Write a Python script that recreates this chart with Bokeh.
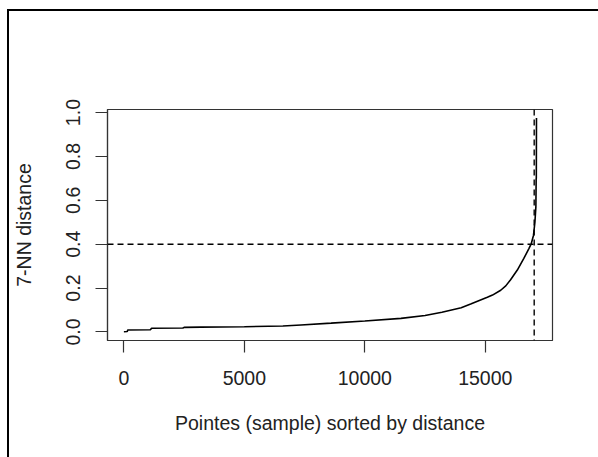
from bokeh.plotting import figure
from bokeh.models import FixedTicker, Span, Range1d
from bokeh.embed import file_html
from bokeh.resources import INLINE

# ---- data ----
sorted_index = [1, 140, 160, 1100, 1150, 2450, 2500, 3200, 5000, 6600, 7350, 8600,
                10000, 11500, 12500, 13200, 14000, 14394, 15085, 15300, 15640,
                15850, 16050, 16330, 16600, 16810, 16910, 17000, 17060, 17100,
                17112, 17118, 17125]
knn_distance = [0.001, 0.002, 0.009, 0.010, 0.017, 0.018, 0.021, 0.022, 0.024, 0.027,
                0.032, 0.040, 0.050, 0.062, 0.075, 0.090, 0.110, 0.127, 0.158,
                0.168, 0.190, 0.210, 0.238, 0.282, 0.335, 0.380, 0.403, 0.440,
                0.500, 0.570, 0.700, 0.700, 0.975]
eps_value = 0.4
knee_index = 17030

x_ticks = [0, 5000, 10000, 15000]
x_tick_labels = ["0", "5000", "10000", "15000"]
y_ticks = [0.0, 0.2, 0.4, 0.6, 0.8, 1.0]
y_tick_labels = ["0.0", "0.2", "0.4", "0.6", "0.8", "1.0"]
x_title = "Pointes (sample) sorted by distance"
y_title = "7-NN distance"

FONT = "Liberation Sans"
FS = "19.5px"
INK = "#222222"

p = figure(width=589, height=446, output_backend="svg", toolbar_location=None,
           x_range=Range1d(-680, 17790), y_range=Range1d(-0.039, 1.014),
           frame_width=445, frame_height=231,
           min_border_left=98, min_border_right=46, min_border_top=98,
           min_border_bottom=117)
p.styles = {"margin-left": "7px", "margin-top": "9px",
            "border-left": "2px solid black", "border-top": "2px solid black"}

p.grid.visible = False
p.outline_line_color = "#333333"
p.outline_line_width = 1.2
p.background_fill_color = "white"
p.border_fill_color = "white"

for ax, ticks, labels, title in ((p.xaxis[0], x_ticks, x_tick_labels, x_title),
                                 (p.yaxis[0], y_ticks, y_tick_labels, y_title)):
    ax.ticker = FixedTicker(ticks=ticks)
    ax.major_label_overrides = {t: l for t, l in zip(ticks, labels)}
    ax.minor_tick_line_color = None
    ax.major_tick_out = 12
    ax.major_tick_in = 0
    ax.major_tick_line_color = "#333333"
    ax.major_tick_line_width = 1.2
    ax.axis_line_color = "#333333"
    ax.axis_line_width = 1.2
    ax.major_label_text_font = FONT
    ax.major_label_text_font_size = FS
    ax.major_label_text_color = INK
    ax.axis_label = title
    ax.axis_label_text_font = FONT
    ax.axis_label_text_font_size = FS
    ax.axis_label_text_font_style = "normal"
    ax.axis_label_text_color = INK

p.yaxis.major_label_orientation = "vertical"
p.xaxis.major_label_standoff = 18
p.yaxis.major_label_standoff = 15
p.xaxis.axis_label_standoff = 24
p.yaxis.axis_label_standoff = 29

p.line(sorted_index, knn_distance, line_color="black", line_width=1.6)

p.add_layout(Span(location=eps_value, dimension="width", line_color="black",
                  line_dash="6 4", line_width=1.4))
p.add_layout(Span(location=knee_index, dimension="height", line_color="black",
                  line_dash="6 4", line_width=1.4))

open("out.html", "w").write(file_html(p, INLINE))
